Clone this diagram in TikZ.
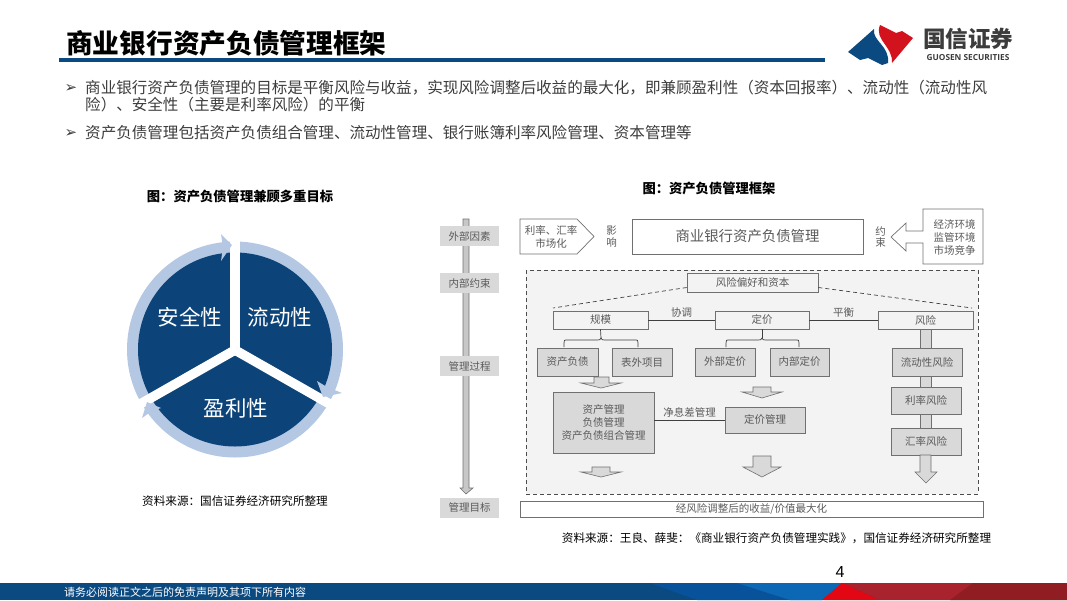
\documentclass[tikz,border=0pt]{standalone}
\usepackage{fontspec}
\setmainfont{Noto Sans CJK SC}
\newfontfamily\dvfont{DejaVu Sans}
\newfontfamily\latfont{Open Sans}
\newfontfamily\pgfont{Liberation Sans}
\definecolor{navy}{HTML}{0B4A80}
\definecolor{ringblue}{HTML}{B4C7E3}
\definecolor{discblue}{HTML}{0C4479}
\definecolor{midblue}{HTML}{07529A}
\definecolor{brightblue}{HTML}{0C68B4}
\definecolor{barred}{HTML}{A8232E}
\definecolor{darkred}{HTML}{8F1D22}
\definecolor{hotred}{HTML}{E30613}
\definecolor{logored}{HTML}{D2121C}
\definecolor{boxgray}{HTML}{D9D9D9}
\definecolor{panelgray}{HTML}{F3F3F3}
\definecolor{edgegray}{HTML}{707070}
\definecolor{textgray}{HTML}{5A5A5A}
\definecolor{bodytext}{HTML}{3C3C3C}
\tikzset{
  fs/.style={font=\fontsize{#1}{#1}\selectfont},
  plainbox/.style={draw=edgegray,line width=0.7pt,fill=white,text=textgray,inner sep=0pt,fs=10.5},
  graybox/.style={draw=edgegray,line width=0.7pt,fill=boxgray,text=textgray,inner sep=0pt,fs=10.5},
  sidelabel/.style={fill=boxgray,text=textgray,inner sep=0pt,fs=10.5,minimum width=59pt,minimum height=20pt},
  lab/.style={text=textgray,inner sep=0pt,fs=10.5},
  caption/.style={text=black,inner sep=0pt,font=\fontsize{13.3}{13.3}\selectfont\bfseries},
  source/.style={text=black,inner sep=0pt,fs=11.6},
  bulletline/.style={text=bodytext,inner sep=0pt,anchor=west,fs=15.55},
  bulletmark/.style={text=bodytext,inner sep=0pt,font=\fontsize{15}{15}\selectfont\dvfont},
  discword/.style={text=white,inner sep=0pt,fs=21.5},
  blockarrow/.style={draw=edgegray,line width=0.6pt,fill=boxgray},
  link/.style={draw=black!75,line width=0.7pt},
  roof/.style={draw=black!75,line width=0.7pt,dashed,dash pattern=on 4pt off 3pt},
}
\begin{document}
\begin{tikzpicture}[x=1pt,y=-1pt]
\useasboundingbox (0,0) rectangle (1067,600);

% header
\node[inner sep=0pt,anchor=west,font=\fontsize{26.7}{26.7}\selectfont\bfseries] (title) at (66,43) {商业银行资产负债管理框架};
\fill[navy] (59,58) rectangle (825,62);

% logo
\fill[navy] (848,52) -- (874,29) .. controls (872,41) and (890,46) .. (888,63) -- (882,65) -- (868,58) -- (860,60) -- cycle;
\fill[logored] (880,25) -- (896,33) -- (902,31) -- (913,38) -- (892,63) .. controls (893,46) and (874,40) .. (880,25) -- cycle;
\node[inner sep=0pt,text=bodytext,font=\fontsize{22.5}{22.5}\selectfont\bfseries] (logocn) at (968,39) {国信证券};
\node[inner sep=0pt,text=bodytext,font=\fontsize{8.3}{8.3}\selectfont\latfont\bfseries] (logoen) at (968,58) {GUOSEN SECURITIES};

% bullets
\node[bulletmark] (b1) at (71,88) {➢};
\node[bulletline] (t1) at (85,88) {商业银行资产负债管理的目标是平衡风险与收益，实现风险调整后收益的最大化，即兼顾盈利性（资本回报率）、流动性（流动性风};
\node[bulletline] (t1b) at (85,105) {险）、安全性（主要是利率风险）的平衡};
\node[bulletmark] (b2) at (71,133) {➢};
\node[bulletline] (t2) at (85,133) {资产负债管理包括资产负债组合管理、流动性管理、银行账簿利率风险管理、资本管理等};

% captions
\node[caption] (capl) at (240,196) {图：资产负债管理兼顾多重目标};
\node[caption] (capr) at (709,188) {图：资产负债管理框架};
\node[source] (srcl) at (235,501) {资料来源：国信证券经济研究所整理};
\node[source] (srcr) at (776.5,538) {资料来源：王良、薛斐：《商业银行资产负债管理实践》，国信证券经济研究所整理};

% disc
\fill[ringblue] (235,349.5) circle (108);
\fill[discblue] (235,349.5) circle (97);
\draw[white,line width=9.5pt] (235,350) -- (235,225);
\draw[white,line width=9.5pt] (235,350) -- (349,415);
\draw[white,line width=9.5pt] (235,350) -- (121,415);
\fill[ringblue] (232,245) -- (221,234) -- (223,247) -- (221,261) -- cycle;
\fill[ringblue] (323,397) -- (317,381) -- (327,387) -- (342,393) -- cycle;
\fill[ringblue] (147,402) -- (142,418) -- (152,411) -- (161,408) -- cycle;
\node[discword] (safe) at (190,317) {安全性};
\node[discword] (liq) at (280,317) {流动性};
\node[discword] (prof) at (236,408) {盈利性};

% left axis of the framework
\path[draw=edgegray,line width=0.6pt,fill=black!22] (463,219) -- (469,219) -- (469,488) -- (473,488) -- (466,494) -- (460,488) -- (463,488) -- cycle;
\node[sidelabel] (s1) at (469.5,236) {外部因素};
\node[sidelabel] (s2) at (469.5,283) {内部约束};
\node[sidelabel] (s3) at (469.5,366) {管理过程};
\node[sidelabel] (s4) at (469.5,507.5) {管理目标};

% top row
\draw[edgegray,line width=0.7pt,fill=white] (520,219) -- (577,219) -- (594,236.5) -- (577,254) -- (520,254) -- cycle;
\node[lab,align=center,font=\fontsize{10.5}{13}\selectfont] (rate) at (551,236.5) {利率、汇率\\市场化};
\node[lab,align=center,font=\fontsize{10.5}{12.5}\selectfont] (infl) at (611.5,236.5) {影\\响};
\node[plainbox,minimum width=231pt,minimum height=35pt,font=\fontsize{14.4}{14.4}\selectfont] (main) at (747.5,236.5) {商业银行资产负债管理};
\node[lab,align=center,font=\fontsize{10.5}{11.5}\selectfont] (limit) at (880.5,237) {约\\束};
\draw[edgegray,line width=0.7pt,fill=white] (891,237) -- (906,223) -- (906,231) -- (923,231) -- (923,209) -- (983,209) -- (983,264) -- (923,264) -- (923,243) -- (906,243) -- (906,251) -- cycle;
\node[lab,align=center,font=\fontsize{10.5}{13}\selectfont] (env) at (954.5,237) {经济环境\\监管环境\\市场竞争};

% dashed panel
\draw[draw=black!70,line width=0.7pt,fill=panelgray,dash pattern=on 4pt off 3pt] (526,270) rectangle (978,494);

% roof and top boxes
\node[plainbox,fill=panelgray,minimum width=131pt,minimum height=19pt] (appetite) at (752.5,282.5) {风险偏好和资本};
\coordinate (roofl) at (553,308);
\coordinate (roofr) at (972,308);
\draw[roof] (appetite.west) ++(0,5) -- (roofl);
\draw[roof] (appetite.east) ++(0,5) -- (roofr);

\node[plainbox,fill=panelgray,minimum width=95pt,minimum height=18pt] (scale) at (600.5,320) {规模};
\node[plainbox,fill=panelgray,minimum width=94pt,minimum height=18pt] (price) at (762,320) {定价};
\node[plainbox,fill=panelgray,minimum width=95pt,minimum height=18pt] (risk) at (925.5,320) {风险};
\draw[link] (scale) -- (price) node[midway,above=2pt,lab] (coord) {协调};
\draw[link] (price) -- (risk) node[midway,above=2pt,lab] (balance) {平衡};

% second row
\node[graybox,minimum width=61pt,minimum height=28pt] (assets) at (567.5,362) {资产负债};
\node[graybox,minimum width=60pt,minimum height=28pt] (offbs) at (642,362) {表外项目};
\node[graybox,minimum width=60pt,minimum height=28pt] (extp) at (725,362) {外部定价};
\node[graybox,minimum width=59pt,minimum height=28pt] (intp) at (799.5,362) {内部定价};

% braces
\coordinate (bs) at (601,338);
\coordinate (bp) at (762,338);
\draw[link] (scale.south) -- (bs);
\draw[link] (price.south) -- (bp);
\draw[link] (564,347) -- (564,343) .. controls (564,340) .. (568,340) -- (597,340) .. controls (600,340) .. (bs) .. controls (602,340) .. (605,340) -- (634,340) .. controls (638,340) .. (638,343) -- (638,347);
\draw[link] (726,347) -- (726,343) .. controls (726,340) .. (730,340) -- (758,340) .. controls (761,340) .. (bp) .. controls (763,340) .. (766,340) -- (795,340) .. controls (799,340) .. (799,343) -- (799,347);

% risk column
\path[draw=edgegray,line width=0.6pt,fill=boxgray] (920,329) rectangle (931,348);
\path[draw=edgegray,line width=0.6pt,fill=boxgray] (920,376) rectangle (931,388);
\path[draw=edgegray,line width=0.6pt,fill=boxgray] (920,414) rectangle (931,428);
\node[graybox,minimum width=70pt,minimum height=28pt] (r1) at (927,362) {流动性风险};
\node[graybox,minimum width=70pt,minimum height=27pt] (r2) at (926,400.5) {利率风险};
\node[graybox,minimum width=70pt,minimum height=27pt] (r3) at (926,441.5) {汇率风险};
\path[blockarrow] (920,455) -- (931,455) -- (931,472) -- (937,472) -- (926,483) -- (915,472) -- (920,472) -- cycle;

% management boxes
\node[graybox,minimum width=101pt,minimum height=61pt,align=center,font=\fontsize{10.5}{13.3}\selectfont] (mgmt) at (603.5,422.5) {资产管理\\负债管理\\资产负债组合管理};
\node[graybox,minimum width=80pt,minimum height=26pt] (pm) at (765,420) {定价管理};
\draw[link] (mgmt.east |- pm.west) -- (pm.west) node[midway,above=2pt,lab] (nim) {净息差管理};

% block arrows
\path[blockarrow] (594,377) -- (609,377) -- (609,383) -- (621,383) -- (601,388) -- (581,383) -- (594,383) -- cycle;
\path[blockarrow] (592,467) -- (610,467) -- (610,472) -- (621,472) -- (601,477) -- (581,472) -- (592,472) -- cycle;
\path[blockarrow] (753,387) -- (771,387) -- (771,392) -- (782,392) -- (762,398) -- (742,392) -- (753,392) -- cycle;
\path[blockarrow] (753,456) -- (771,456) -- (771,467) -- (781,467) -- (762,477) -- (743,467) -- (753,467) -- cycle;

% goal
\node[plainbox,minimum width=463pt,minimum height=16pt] (goal) at (751.5,509) {经风险调整后的收益/价值最大化};

% footer
\fill[navy] (0,583) rectangle (1067,600);
\fill[midblue] (650,583) -- (842,583) -- (822,600) -- (697,600) -- cycle;
\fill[brightblue] (737,583) -- (842,583) -- (822,600) -- (790,600) -- cycle;
\fill[barred] (842,583) -- (1067,583) -- (1067,600) -- (880,600) -- cycle;
\fill[darkred] (973,583) -- (1067,583) -- (1067,600) -- (950,600) -- cycle;
\fill[hotred] (842,583) -- (880,600) -- (822,600) -- cycle;
\node[inner sep=0pt,text=white,anchor=west,fs=11] (foot) at (64,592) {请务必阅读正文之后的免责声明及其项下所有内容};
\node[inner sep=0pt,text=black,font=\fontsize{16}{16}\selectfont\pgfont] (pageno) at (840,572) {4};
\end{tikzpicture}
\end{document}
